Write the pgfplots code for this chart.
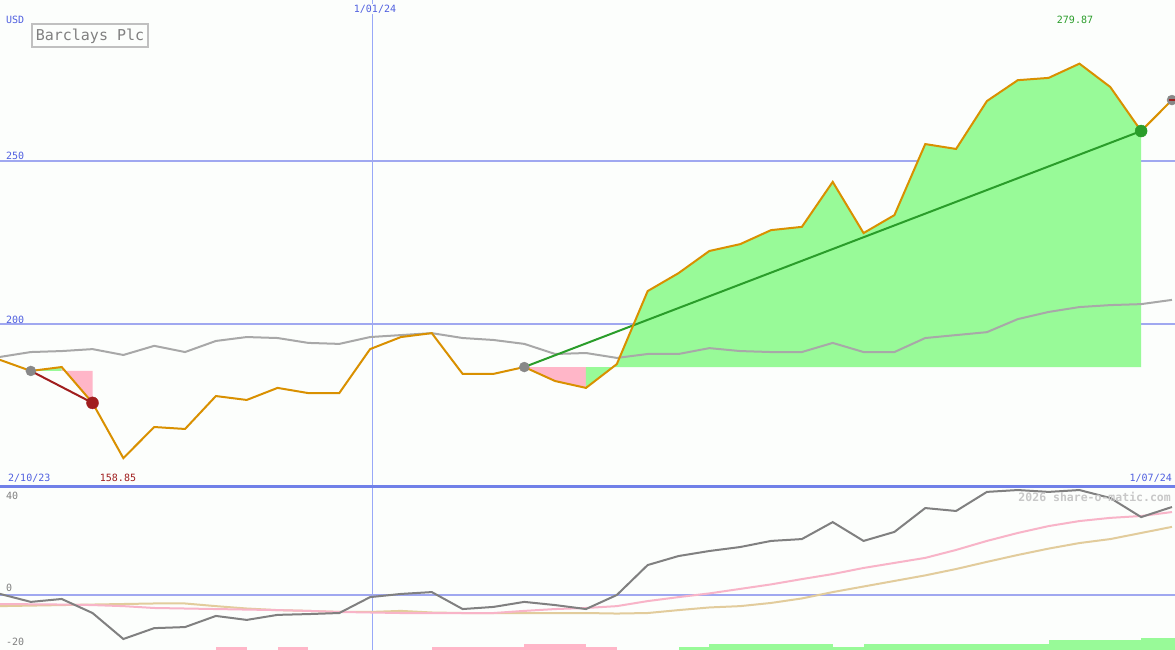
\documentclass[border=0pt]{standalone}
\usepackage{fontspec}
\setmainfont{DejaVu Sans Mono}
\usepackage{pgfplots}
\usepackage{pgfplotstable}
\pgfplotsset{compat=1.18}

\definecolor{bgwhite}{HTML}{FCFEFC}
\definecolor{priceorange}{HTML}{D99000}
\definecolor{magray}{HTML}{A8A8A8}
\definecolor{oscgray}{HTML}{808080}
\definecolor{gainfill}{HTML}{98FA98}
\definecolor{lossfill}{HTML}{FFB6C8}
\definecolor{trendgreen}{HTML}{2A9D2A}
\definecolor{trendred}{HTML}{A01E1E}
\definecolor{markgray}{HTML}{888888}
\definecolor{gridblue}{HTML}{A0A8F0}
\definecolor{vlineblue}{HTML}{98A8F8}
\definecolor{sepblue}{HTML}{7080E8}
\definecolor{textblue}{HTML}{5060E0}
\definecolor{boxgray}{HTML}{C0C0C0}
\definecolor{fastpink}{HTML}{F8B4C8}
\definecolor{slowtan}{HTML}{E2CC9C}
\definecolor{wmgray}{HTML}{C8C8C8}

% weekly close and moving average (USD)
\pgfplotstableread{
i price ma
0 189.0 189.9
1 185.6 191.4
2 186.8 191.7
3 175.8 192.3
4 158.85 190.5
5 168.4 193.3
6 167.8 191.4
7 177.9 194.8
8 176.7 196.0
9 180.4 195.7
10 178.8 194.2
11 178.8 193.9
12 192.3 196.0
13 196.0 196.6
14 197.2 197.2
15 184.7 195.7
16 184.7 195.1
17 186.8 193.9
18 182.5 190.8
19 180.4 191.1
20 187.7 189.6
21 210.1 190.8
22 215.6 190.8
23 222.4 192.6
24 224.5 191.7
25 228.8 191.4
26 229.8 191.4
27 243.6 194.2
28 227.9 191.4
29 233.4 191.4
30 255.2 195.7
31 253.7 196.6
32 268.4 197.5
33 274.8 201.5
34 275.5 203.7
35 279.87 205.2
36 272.7 205.8
37 259.2 206.1
38 268.7 207.4
}\pricedata

% oscillator panel
\pgfplotstableread{
i osc fast slow
0 0.4 -3.4 -4.2
1 -2.6 -3.5 -4.0
2 -1.5 -3.6 -3.8
3 -6.8 -3.8 -3.6
4 -16.6 -4.2 -3.4
5 -12.5 -4.9 -3.2
6 -12.1 -5.1 -3.2
7 -7.9 -5.3 -4.2
8 -9.4 -5.5 -5.1
9 -7.5 -5.7 -5.7
10 -7.2 -6.0 -6.0
11 -6.8 -6.4 -6.4
12 -0.8 -6.6 -6.4
13 0.4 -6.8 -6.0
14 1.1 -6.8 -6.6
15 -5.3 -6.8 -6.8
16 -4.5 -6.8 -6.8
17 -2.6 -6.0 -6.8
18 -3.8 -5.3 -6.8
19 -5.3 -4.9 -6.8
20 0.0 -4.2 -7.0
21 11.3 -2.3 -6.8
22 14.7 -0.8 -5.7
23 16.6 0.6 -4.7
24 18.1 2.3 -4.2
25 20.4 4.0 -3.0
26 21.1 6.0 -1.3
27 27.5 7.9 1.1
28 20.4 10.2 3.2
29 23.8 12.1 5.3
30 32.8 14.0 7.4
31 31.7 17.0 9.8
32 38.9 20.4 12.5
33 39.6 23.4 15.1
34 38.9 26.0 17.5
35 39.6 27.9 19.6
36 36.6 29.1 21.1
37 29.4 29.8 23.4
38 33.2 31.3 25.7
}\oscdata

\pgfplotsset{
    panel/.style={
        scale only axis,
        width=1175pt,
        anchor=south west,
        xmin=0, xmax=38.1,
        axis line style={draw=none},
        major tick length=0pt,
        xtick={12.078}, xticklabels={},
        yticklabels={},
        xmajorgrids, ymajorgrids,
        major x grid style={color=vlineblue, line width=1pt},
        major y grid style={color=gridblue, line width=2pt},
    },
}

\begin{document}
\begin{tikzpicture}[x=1pt, y=1pt]
\fill[bgwhite] (0,0) rectangle (1175,650);
\useasboundingbox (0,0) rectangle (1175,650);

% price panel
\begin{axis}[panel, at={(0pt,163pt)}, height=487pt,
    ymin=150, ymax=299.4, ytick={200,250}]
% gain / loss areas against entry level
\addplot[fill=gainfill, draw=none] coordinates {(1,185.6) (2,186.8) (2,185.6)};
\addplot[fill=lossfill, draw=none] coordinates {(2,185.6) (2,186.8) (3,175.8) (3,185.6)};
\addplot[fill=lossfill, draw=none] coordinates {(17,186.8) (18,182.5) (19,180.4) (19,186.8)};
\addplot[fill=gainfill, draw=none] coordinates {
    (19,186.8) (19,180.4) (20,187.7) (21,210.1) (22,215.6) (23,222.4) (24,224.5)
    (25,228.8) (26,229.8) (27,243.6) (28,227.9) (29,233.4) (30,255.2) (31,253.7)
    (32,268.4) (33,274.8) (34,275.5) (35,279.87) (36,272.7) (37,259.2) (37,186.8)};
\addplot[color=magray, line width=2pt] table[x=i, y=ma] {\pricedata};
\addplot[color=trendred, line width=2pt] coordinates {(1,185.6) (3,175.8)};
\addplot[color=trendgreen, line width=2pt] coordinates {(17,186.8) (37,259.2)};
\addplot[color=priceorange, line width=2pt] table[x=i, y=price] {\pricedata};
\addplot[only marks, mark=*, mark size=5pt, color=markgray] coordinates {(1,185.6) (17,186.8) (38,268.7)};
\addplot[only marks, mark=-, mark size=3pt, color=trendred, line width=1.5pt] coordinates {(38,268.7)};
\addplot[only marks, mark=*, mark size=6pt, color=trendred] coordinates {(3,175.8)};
\addplot[only marks, mark=*, mark size=6pt, color=trendgreen] coordinates {(37,259.2)};
\end{axis}

% oscillator panel
\begin{axis}[panel, at={(0pt,0pt)}, height=163pt,
    ymin=-20.75, ymax=40.75, ytick={0}]
\addplot[fill=lossfill, draw=none] coordinates {(7,-21) (7,-19.6) (8,-19.6) (8,-21)};
\addplot[fill=lossfill, draw=none] coordinates {(9,-21) (9,-19.6) (10,-19.6) (10,-21)};
\addplot[fill=lossfill, draw=none] coordinates {(14,-21) (14,-19.6) (17,-19.6) (17,-21)};
\addplot[fill=lossfill, draw=none] coordinates {(17,-21) (17,-18.5) (19,-18.5) (19,-21)};
\addplot[fill=lossfill, draw=none] coordinates {(19,-21) (19,-19.6) (20,-19.6) (20,-21)};
\addplot[fill=gainfill, draw=none] coordinates {(22,-21) (22,-19.6) (23,-19.6) (23,-21)};
\addplot[fill=gainfill, draw=none] coordinates {(23,-21) (23,-18.5) (27,-18.5) (27,-21)};
\addplot[fill=gainfill, draw=none] coordinates {(27,-21) (27,-19.6) (28,-19.6) (28,-21)};
\addplot[fill=gainfill, draw=none] coordinates {(28,-21) (28,-18.5) (34,-18.5) (34,-21)};
\addplot[fill=gainfill, draw=none] coordinates {(34,-21) (34,-17.0) (37,-17.0) (37,-21)};
\addplot[fill=gainfill, draw=none] coordinates {(37,-21) (37,-16.2) (38.1,-16.2) (38.1,-21)};
\addplot[color=slowtan, line width=2pt] table[x=i, y=slow] {\oscdata};
\addplot[color=fastpink, line width=2pt] table[x=i, y=fast] {\oscdata};
\addplot[color=oscgray, line width=2pt] table[x=i, y=osc] {\oscdata};
\end{axis}

% panel separator
\draw[sepblue, line width=3pt] (0,163.5) -- (1175,163.5);

% texts
\begin{scope}[every node/.style={font=\fontsize{10}{12}\selectfont, inner sep=1pt}]
\node[anchor=west, textblue] at (5,630) {USD};
\node[draw=boxgray, line width=2pt, text=oscgray, minimum width=116pt, minimum height=23pt,
      inner sep=0pt, font=\fontsize{15}{17}\selectfont, fill=bgwhite] at (90,614) {Barclays Plc};
\node[textblue, fill=bgwhite] at (375,641) {1/01/24};
\node[trendgreen] at (1075,630) {279.87};
\node[anchor=west, textblue] at (5,494) {250};
\node[anchor=west, textblue] at (5,330) {200};
\node[anchor=west, textblue] at (7,172) {2/10/23};
\node[trendred] at (118,172) {158.85};
\node[anchor=east, textblue] at (1173,172) {1/07/24};
\node[anchor=west, oscgray] at (5,154) {40};
\node[anchor=west, oscgray] at (5,62) {0};
\node[anchor=west, oscgray] at (5,8) {-20};
\node[anchor=east, wmgray, font=\fontsize{11.5}{13}\selectfont\bfseries] at (1172,153) {2026 share-o-matic.com};
\end{scope}
\end{tikzpicture}
\end{document}
